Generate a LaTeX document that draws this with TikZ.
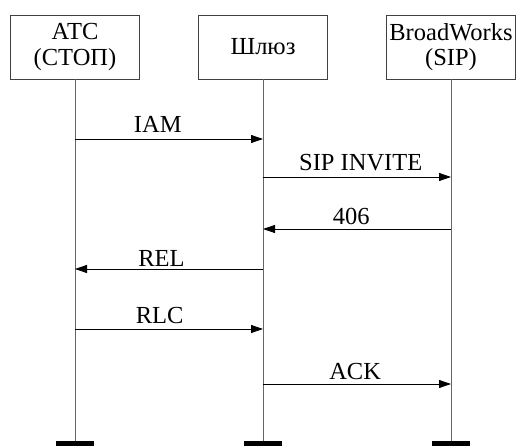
\documentclass[tikz,border=0pt]{standalone}
\usepackage{fontspec}
\setmainfont{Liberation Serif}
\newfontfamily\diagfont{Liberation Serif}
\usetikzlibrary{arrows.meta,positioning}

\begin{document}
\begin{tikzpicture}[x=1pt, y=-1pt,
    every node/.style={font=\diagfont\fontsize{24.5}{25}\selectfont},
    party/.style={draw=black!75, line width=0.9pt, minimum width=129pt, minimum height=64pt, align=center, inner sep=0pt},
    life/.style={draw=black!60, line width=1pt},
    foot/.style={fill=black, minimum width=38pt, minimum height=5pt, inner sep=0pt},
    msg/.style={-{Triangle[length=12pt,width=8pt]}, line width=0.8pt},
    msgtext/.style={anchor=base, yshift=#1},
    msgtext/.default=6pt
  ]
  \useasboundingbox (0,0) rectangle (516,446);

  % participants
  \node[party] (atc) at (75,47) {АТС\\(СТОП)};
  \node[party] (gw) at (263,47) {Шлюз};
  \node[party] (bw) at (451,47) {BroadWorks\\(SIP)};

  \node[foot, anchor=south] (atcend) at (75,446) {};
  \node[foot, anchor=south] (gwend) at (263,446) {};
  \node[foot, anchor=south] (bwend) at (451,446) {};

  \draw[life] (atc.south) -- (atcend.north);
  \draw[life] (gw.south) -- (gwend.north);
  \draw[life] (bw.south) -- (bwend.north);

  % message levels
  \foreach \y/\n in {139/1, 177/2, 229/3, 269/4, 329/5, 384/6} {
    \coordinate (a\n) at (75,\y);
    \coordinate (g\n) at (263,\y);
    \coordinate (b\n) at (451,\y);
  }

  \draw[msg] (a1) -- node[msgtext, pos=0.44] {IAM} (g1);
  \draw[msg] (g2) -- node[msgtext, pos=0.52] {SIP INVITE} (b2);
  \draw[msg] (b3) -- node[msgtext=4pt, pos=0.53] {406} (g3);
  \draw[msg] (g4) -- node[msgtext=3pt, pos=0.54] {REL} (a4);
  \draw[msg] (a5) -- node[msgtext, pos=0.45] {RLC} (g5);
  \draw[msg] (g6) -- node[msgtext=5pt, pos=0.49] {ACK} (b6);
\end{tikzpicture}
\end{document}
